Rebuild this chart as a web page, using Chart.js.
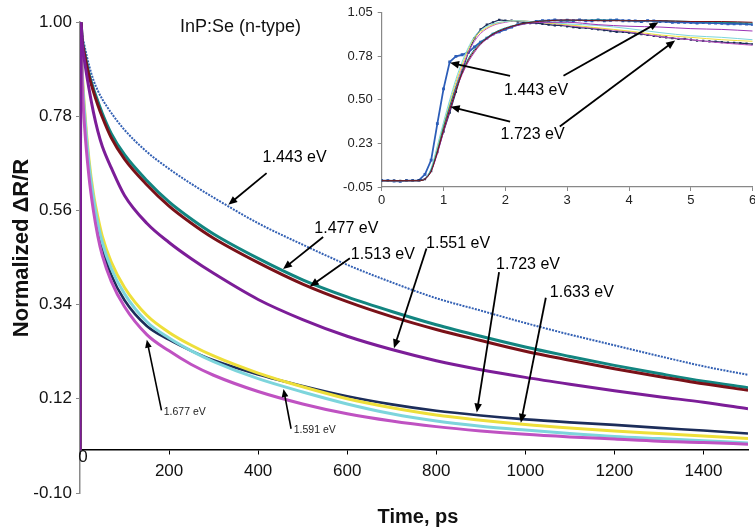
<!DOCTYPE html>
<html><head><meta charset="utf-8">
<script src="https://cdn.jsdelivr.net/npm/chart.js@4.4.1/dist/chart.umd.min.js"></script>
<style>
html,body{margin:0;padding:0;background:#fff;overflow:hidden;width:755px;height:531px;position:relative}
#main{position:absolute;left:0;top:0}
#inset{position:absolute;left:330px;top:0}
</style></head><body>
<canvas id="main" width="755" height="531"></canvas>
<canvas id="inset" width="440" height="211"></canvas>
<script>
// ---------- MAIN CHART DATA (time in ps, normalized dR/R) ----------
const decayTime = [0, 2, 5, 10, 20, 30, 40, 50, 70, 100, 150, 200, 250, 300, 400, 500, 600, 700, 800, 900, 1000, 1100, 1200, 1300, 1400, 1500];
const decay1443 = [0, 1.0, 0.97, 0.945, 0.9, 0.865, 0.84, 0.82, 0.788, 0.748, 0.697, 0.657, 0.622, 0.59, 0.53, 0.48, 0.433, 0.392, 0.355, 0.326, 0.297, 0.27, 0.245, 0.22, 0.196, 0.176];
const decay1477 = [0, 1.0, 0.96, 0.93, 0.88, 0.845, 0.815, 0.787, 0.74, 0.69, 0.63, 0.58, 0.54, 0.505, 0.448, 0.398, 0.358, 0.324, 0.293, 0.266, 0.241, 0.219, 0.198, 0.179, 0.161, 0.146];
const decay1513 = [0, 1.0, 0.955, 0.925, 0.875, 0.838, 0.806, 0.778, 0.73, 0.68, 0.62, 0.57, 0.53, 0.495, 0.438, 0.388, 0.347, 0.312, 0.282, 0.256, 0.231, 0.21, 0.19, 0.172, 0.155, 0.14];
const decay1551 = [0, 1.0, 0.95, 0.91, 0.845, 0.79, 0.745, 0.71, 0.66, 0.595, 0.53, 0.485, 0.447, 0.413, 0.352, 0.305, 0.266, 0.235, 0.209, 0.188, 0.17, 0.154, 0.139, 0.125, 0.112, 0.097];
const decay1591 = [0, 1.0, 0.88, 0.79, 0.67, 0.59, 0.53, 0.485, 0.425, 0.365, 0.3, 0.262, 0.232, 0.207, 0.167, 0.136, 0.108, 0.085, 0.068, 0.056, 0.047, 0.039, 0.032, 0.027, 0.022, 0.017];
const decay1633 = [0, 1.0, 0.89, 0.8, 0.68, 0.6, 0.545, 0.5, 0.44, 0.38, 0.315, 0.275, 0.245, 0.22, 0.18, 0.148, 0.12, 0.099, 0.082, 0.07, 0.06, 0.052, 0.045, 0.039, 0.033, 0.027];
const decay1677 = [0, 1.0, 0.86, 0.76, 0.64, 0.56, 0.5, 0.455, 0.395, 0.335, 0.27, 0.232, 0.2, 0.175, 0.137, 0.108, 0.085, 0.068, 0.055, 0.045, 0.037, 0.031, 0.026, 0.021, 0.018, 0.014];
const decay1723 = [0, 1.0, 0.88, 0.78, 0.66, 0.58, 0.52, 0.475, 0.41, 0.35, 0.29, 0.258, 0.232, 0.21, 0.177, 0.15, 0.126, 0.107, 0.092, 0.081, 0.072, 0.065, 0.059, 0.052, 0.046, 0.039];
const mainXTicks = [0, 200, 400, 600, 800, 1000, 1200, 1400];
const mainYTicks = [-0.10, 0.12, 0.34, 0.56, 0.78, 1.00];

// ---------- INSET DATA (time in ps) ----------
const insetTimeFine = [0.0,0.1,0.2,0.3,0.4,0.5,0.6,0.7,0.8,0.9,1.0,1.1,1.2,1.3,1.4,1.5,1.6,1.7,1.8,1.9,2.0,2.1,2.2,2.3,2.4,2.5,2.6,2.7,2.8,2.9,3.0,3.1,3.2,3.3,3.4,3.5,3.6,3.7,3.8,3.9,4.0,4.1,4.2,4.3,4.4,4.5,4.6,4.7,4.8,4.9,5.0,5.1,5.2,5.3,5.4,5.5,5.6,5.7,5.8,5.9,6.0];
const rise1443 = [-0.01,-0.01,-0.012,-0.015,-0.01,-0.01,-0.008,0.03,0.12,0.35,0.57,0.74,0.775,0.785,0.8,0.835,0.865,0.89,0.915,0.93,0.945,0.96,0.975,0.985,0.99,0.995,1.0,1.0,1.005,1.0,1.003,1.0,1.005,1.0,1.0,1.005,1.0,1.003,1.005,1.0,1.0,0.998,0.995,1.0,0.998,0.995,0.995,0.99,0.99,0.99,0.988,0.985,0.988,0.985,0.985,0.983,0.98,0.98,0.98,0.978,0.975];
const rise1723 = [-0.01,-0.012,-0.01,-0.012,-0.01,-0.01,-0.008,0.0,0.05,0.17,0.3,0.42,0.55,0.68,0.8,0.89,0.945,0.975,0.99,1.005,1.0,1.0,0.995,0.99,0.985,0.985,0.98,0.975,0.97,0.97,0.965,0.96,0.955,0.955,0.95,0.945,0.94,0.935,0.93,0.93,0.925,0.92,0.915,0.91,0.905,0.9,0.895,0.89,0.885,0.885,0.88,0.875,0.872,0.87,0.868,0.865,0.862,0.86,0.858,0.855,0.852];
const insetTimeCoarse = [0, 0.6, 0.7, 0.8, 0.9, 1.0, 1.1, 1.2, 1.3, 1.4, 1.5, 1.6, 1.8, 2.0, 2.2, 2.4, 2.7, 3.0, 3.5, 4.0, 4.5, 5.0, 5.5, 6.0];
const rise1477 = [-0.01,-0.01,0.0,0.06,0.18,0.33,0.46,0.58,0.68,0.76,0.82,0.86,0.92,0.955,0.975,0.99,1.0,1.0,1.005,1.0,1.0,0.995,0.99,0.985];
const rise1513 = [-0.01,-0.01,0.0,0.05,0.17,0.31,0.44,0.56,0.67,0.75,0.81,0.855,0.915,0.95,0.975,0.99,1.0,1.005,1.0,1.0,1.0,0.995,0.995,0.99];
const rise1551 = [-0.01,-0.01,0.0,0.05,0.16,0.3,0.43,0.56,0.66,0.74,0.8,0.85,0.91,0.95,0.97,0.985,0.99,0.99,0.975,0.965,0.96,0.95,0.945,0.935];
const rise1591 = [-0.01,-0.01,0.0,0.07,0.21,0.36,0.5,0.63,0.74,0.83,0.9,0.94,0.98,0.995,1.0,0.995,0.99,0.98,0.97,0.95,0.925,0.905,0.895,0.88];
const rise1633 = [-0.01,-0.01,0.0,0.06,0.2,0.34,0.48,0.61,0.72,0.82,0.89,0.93,0.975,0.995,1.0,0.995,0.985,0.975,0.955,0.935,0.91,0.895,0.88,0.87];
const rise1677 = [-0.01,-0.01,0.0,0.06,0.19,0.33,0.46,0.59,0.7,0.8,0.87,0.92,0.97,0.99,1.0,0.995,0.985,0.97,0.95,0.93,0.9,0.88,0.86,0.845];
const insetXTicks = [0, 1, 2, 3, 4, 5, 6];
const insetYTicks = [-0.05, 0.225, 0.5, 0.775, 1.05];
const insetYLabels = ['-0.05', '0.23', '0.50', '0.78', '1.05'];

// ---------- styles ----------
const FONT = "'Liberation Sans', Arial, Helvetica, sans-serif";
const C = {
  e1443: '#3461B4', e1477: '#128580', e1513: '#7A1118', e1551: '#7C1D98',
  e1591: '#7DD5DC', e1633: '#EEDF3A', e1677: '#BF52C2', e1723: '#1C2D5A'
};
const pts = (xs, ys) => xs.map((x, i) => ({x, y: ys[i]}));

function drawArrow(ctx, x0, y0, x1, y1, w, head) {
  const a = Math.atan2(y1 - y0, x1 - x0);
  ctx.lineWidth = w;
  ctx.beginPath(); ctx.moveTo(x0, y0);
  ctx.lineTo(x1 - head * 0.7 * Math.cos(a), y1 - head * 0.7 * Math.sin(a)); ctx.stroke();
  const hw = head * 0.42;
  ctx.beginPath(); ctx.moveTo(x1, y1);
  ctx.lineTo(x1 - head * Math.cos(a) + hw * Math.sin(a), y1 - head * Math.sin(a) - hw * Math.cos(a));
  ctx.lineTo(x1 - head * Math.cos(a) - hw * Math.sin(a), y1 - head * Math.sin(a) + hw * Math.cos(a));
  ctx.closePath(); ctx.fill();
}

function annotationPlugin(id, notes, extra) {
  return {
    id,
    afterDraw(chart) {
      const {ctx} = chart; const xs = chart.scales.x, ys = chart.scales.y;
      const X = v => xs.getPixelForValue(v), Y = v => ys.getPixelForValue(v);
      ctx.save();
      ctx.fillStyle = '#000'; ctx.strokeStyle = '#000';
      notes.forEach(n => {
        n.arrows.forEach(a => drawArrow(ctx, X(a[0]), Y(a[1]), X(a[2]), Y(a[3]), n.lw, n.head));
        ctx.font = n.font; ctx.textAlign = n.align; ctx.textBaseline = 'middle';
        ctx.fillStyle = n.color || '#000';
        ctx.fillText(n.text, X(n.at[0]), Y(n.at[1]));
        ctx.fillStyle = '#000';
      });
      if (extra) extra(chart, ctx, X, Y);
      ctx.restore();
    }
  };
}

// ---------- MAIN ----------
const mainNotes = [
  {text: '1.443 eV', at: [482, 0.683], align: 'center', font: '16px ' + FONT, lw: 1.8, head: 9, arrows: [[419, 0.647, 333, 0.573]]},
  {text: '1.477 eV', at: [598, 0.517], align: 'center', font: '16px ' + FONT, lw: 1.8, head: 9, arrows: [[546, 0.498, 456, 0.423]]},
  {text: '1.513 eV', at: [680, 0.456], align: 'center', font: '16px ' + FONT, lw: 1.8, head: 9, arrows: [[606, 0.448, 516, 0.382]]},
  {text: '1.551 eV', at: [849, 0.483], align: 'center', font: '16px ' + FONT, lw: 1.8, head: 9, arrows: [[778, 0.471, 705, 0.238]]},
  {text: '1.723 eV', at: [1006, 0.434], align: 'center', font: '16px ' + FONT, lw: 1.8, head: 9, arrows: [[941, 0.416, 891, 0.088]]},
  {text: '1.633 eV', at: [1127, 0.367], align: 'center', font: '16px ' + FONT, lw: 1.8, head: 9, arrows: [[1046, 0.356, 990, 0.064]]},
  {text: '1.677 eV', at: [188, 0.088], align: 'left', font: '10.5px ' + FONT, color: '#222', lw: 1.6, head: 8, arrows: [[183, 0.093, 150, 0.258]]},
  {text: '1.591 eV', at: [480, 0.047], align: 'left', font: '10.5px ' + FONT, color: '#222', lw: 1.6, head: 8, arrows: [[474, 0.05, 457, 0.143]]}
];

const mainExtra = (chart, ctx, X, Y) => {
  ctx.fillStyle = '#111';
  ctx.font = '17px ' + FONT; ctx.textAlign = 'center'; ctx.textBaseline = 'middle';
  ctx.fillText('0', X(0) + 3, Y(0) + 7);
  ctx.font = '18px ' + FONT; ctx.textAlign = 'left';
  ctx.fillText('InP:Se (n-type)', 180, 27);
  ctx.font = 'bold 20px ' + FONT; ctx.textAlign = 'center';
  ctx.fillText('Time, ps', 418, 517);
  ctx.save(); ctx.translate(22, 248); ctx.rotate(-Math.PI / 2);
  ctx.font = 'bold 22px ' + FONT; ctx.fillText('Normalized \u0394R/R', 0, 0); ctx.restore();
};

const mainSeries = [
  ['1.551 eV', decay1551, C.e1551, 3, []],
  ['1.513 eV', decay1513, C.e1513, 3, []],
  ['1.477 eV', decay1477, C.e1477, 3, []],
  ['1.443 eV', decay1443, C.e1443, 2, [2, 1.2]],
  ['1.677 eV', decay1677, C.e1677, 3, []],
  ['1.591 eV', decay1591, C.e1591, 3, []],
  ['1.633 eV', decay1633, C.e1633, 3, []],
  ['1.723 eV', decay1723, C.e1723, 2.6, []]
];

new Chart(document.getElementById('main'), {
  type: 'line',
  data: {datasets: mainSeries.map(s => ({label: s[0], data: pts(decayTime, s[1]), borderColor: s[2], backgroundColor: s[2], borderWidth: s[3], borderDash: s[4], pointRadius: 0, cubicInterpolationMode: 'monotone', fill: false}))},
  options: {
    responsive: false, animation: false, devicePixelRatio: 1,
    layout: {padding: {left: 0, top: 22, right: 7, bottom: 38}},
    plugins: {legend: {display: false}, tooltip: {enabled: false}},
    scales: {
      x: {type: 'linear', position: {y: 0}, min: 0, max: 1500,
        afterBuildTicks: s => { s.ticks = mainXTicks.map(v => ({value: v})); },
        ticks: {font: {size: 17, family: FONT}, color: '#111', padding: 7, maxRotation: 0, autoSkip: false, callback: v => v === 0 ? '' : String(v)},
        grid: {drawOnChartArea: false, drawTicks: true, tickLength: 4, color: '#000'},
        border: {color: '#000', width: 1.5}},
      y: {type: 'linear', position: 'left', min: -0.1, max: 1.0,
        afterBuildTicks: s => { s.ticks = mainYTicks.map(v => ({value: v})); },
        afterFit: s => { s.width = 80; },
        ticks: {font: {size: 17, family: FONT}, color: '#111', padding: 4, autoSkip: false, callback: v => Number(v).toFixed(2)},
        grid: {drawOnChartArea: false, drawTicks: true, tickLength: 4, color: '#888'},
        border: {color: '#8a8a8a', width: 1.5}}
    }
  },
  plugins: [annotationPlugin('mainNotes', mainNotes, mainExtra)]
});

// ---------- INSET ----------
const insetNotes = [
  {text: '1.443 eV', at: [2.497, 0.559], align: 'center', font: '16px ' + FONT, lw: 1.8, head: 9, arrows: [[2.076, 0.652, 1.105, 0.734], [2.94, 0.652, 4.476, 0.99]]},
  {text: '1.723 eV', at: [2.44, 0.28], align: 'center', font: '16px ' + FONT, lw: 1.8, head: 9, arrows: [[2.076, 0.363, 1.115, 0.456], [2.88, 0.332, 4.745, 0.875]]}
];
const thin = (label, ys, color) => ({label, data: pts(insetTimeCoarse, ys), borderColor: color, backgroundColor: color, borderWidth: 1, pointRadius: 0, cubicInterpolationMode: 'monotone', fill: false});
new Chart(document.getElementById('inset'), {
  type: 'line',
  data: {datasets: [
    thin('1.513 eV', rise1513, C.e1513),
    thin('1.477 eV', rise1477, C.e1477),
    thin('1.551 eV', rise1551, '#9A33B5'),
    thin('1.591 eV', rise1591, C.e1591),
    thin('1.633 eV', rise1633, C.e1633),
    thin('1.677 eV', rise1677, C.e1677),
    {label: '1.723 eV', data: pts(insetTimeFine, rise1723), borderColor: C.e1723, backgroundColor: C.e1723, borderWidth: 1.2, pointStyle: 'rect', pointRadius: 1.6, pointBorderWidth: 0, tension: 0, fill: false},
    {label: '1.443 eV', data: pts(insetTimeFine, rise1443), borderColor: '#2C5DB8', backgroundColor: '#2C5DB8', borderWidth: 1.8, pointStyle: 'rect', pointRadius: 2, pointBorderWidth: 0, tension: 0, fill: false}
  ]},
  options: {
    responsive: false, animation: false, devicePixelRatio: 1,
    layout: {padding: {left: 0, top: 9, right: 17.3, bottom: 0}},
    plugins: {legend: {display: false}, tooltip: {enabled: false}},
    scales: {
      x: {type: 'linear', position: 'bottom', min: 0, max: 6,
        afterBuildTicks: s => { s.ticks = insetXTicks.map(v => ({value: v})); },
        afterFit: s => { s.height = 24; },
        ticks: {font: {size: 13, family: FONT}, color: '#222', padding: 2, maxRotation: 0, autoSkip: false},
        grid: {drawOnChartArea: false, drawTicks: true, tickLength: 4, color: '#888'},
        border: {color: '#888', width: 1.2}},
      y: {type: 'linear', position: 'left', min: -0.05, max: 1.05,
        afterBuildTicks: s => { s.ticks = insetYTicks.map(v => ({value: v})); },
        afterFit: s => { s.width = 51.7; },
        ticks: {font: {size: 13, family: FONT}, color: '#222', padding: 5, autoSkip: false, callback: (v, i) => insetYLabels[i]},
        grid: {drawOnChartArea: false, drawTicks: true, tickLength: 4, color: '#888'},
        border: {color: '#888', width: 1.2}}
    }
  },
  plugins: [annotationPlugin('insetNotes', insetNotes)]
});
</script></body></html>
